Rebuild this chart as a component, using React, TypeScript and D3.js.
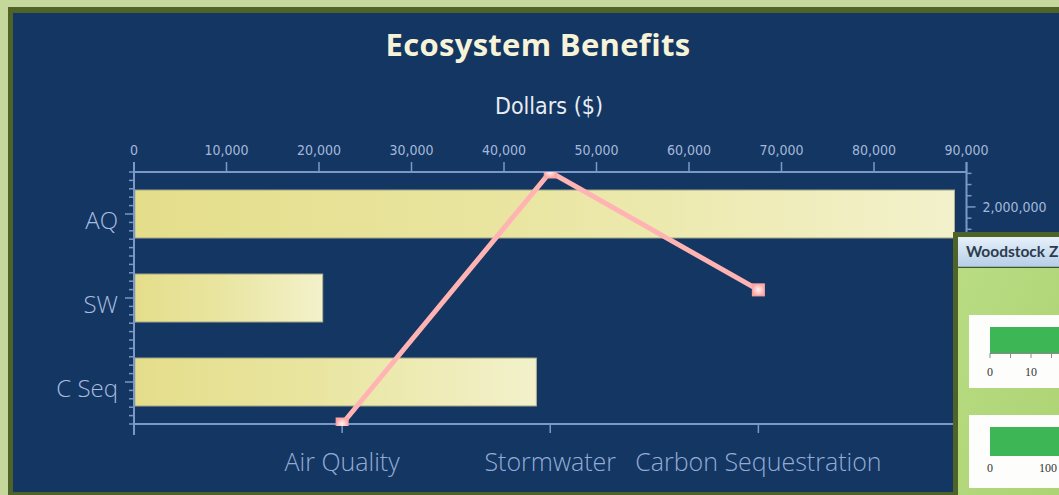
import * as d3 from "d3";
import React from "react";

// bar series (top axis, dollars)
const categories = ["AQ", "SW", "C Seq"];
const dollarValues = [88700, 20400, 43500];
const dollarTicks = [0, 10000, 20000, 30000, 40000, 50000, 60000, 70000, 80000, 90000];

// line series (bottom categories, right axis)
const benefitNames = ["Air Quality", "Stormwater", "Carbon Sequestration"];
const benefitAmounts = [61000, 2312000, 1259000];
const amountTicks = [2000000];

// the overlapping "Woodstock Z..." panel on the right
const panelBarValues = [30, 220];
const panelTicks = [[0, 10], [0, 100]];
const panelTickLabels = [["0", "10"], ["0", "100"]];

const W = 1059;
const H = 495;
const M = { left: 134, right: 966.5, top: 172, bottom: 424 };

const AXIS = "#7b98c9";
const TICK_TXT = "#a3b8dc";
const CAT_TXT = "#a9bce0";
const COND = "'DejaVu Sans Condensed', 'DejaVu Sans', sans-serif";
const SANS = "'Open Sans', 'Noto Sans', sans-serif";

export default function App() {
    const x = d3.scaleLinear().domain([0, 90000]).range([M.left, M.right]);
    const y = d3
        .scaleBand()
        .domain(categories)
        .range([M.top, M.bottom])
        .paddingInner(0.43)
        .paddingOuter(0.215);
    const xc = d3.scalePoint().domain(benefitNames).range([M.left, M.right]).padding(1);
    const yr = d3
        .scaleLinear()
        .domain(d3.extent(benefitAmounts) as [number, number])
        .range([M.bottom, M.top]);
    const fmt = d3.format(",");

    const line = d3
        .line<number>()
        .x((d, i) => xc(benefitNames[i]) as number)
        .y((d) => yr(d));

    // minor ticks on the left axis, ten per band
    const leftMinor = d3.range(0, 31).map((i) => M.top + (i * y.step()) / 10);
    // minor ticks on the right axis, every 100,000
    const rightMinor = d3.range(100000, yr.domain()[1] + 1, 100000);

    // panel scales
    const p1 = d3.scaleLinear().domain([0, 10]).range([990, 1031]);
    const p2 = d3.scaleLinear().domain([0, 100]).range([990, 1048]);
    const panelScales = [p1, p2];
    const cardTop = [315, 415];

    return (
        <svg
            width={W}
            height={H}
            style={{ position: "absolute", left: 0, top: 0, display: "block" }}
        >
            <defs>
                <linearGradient id="barGrad" x1="0" x2="1" y1="0" y2="0">
                    <stop offset="0" stopColor="#e4de8b" />
                    <stop offset="0.45" stopColor="#e9e5a0" />
                    <stop offset="1" stopColor="#f3f1cb" />
                </linearGradient>
                <radialGradient id="mk">
                    <stop offset="0" stopColor="#fff2f2" />
                    <stop offset="0.5" stopColor="#ffcfcf" />
                    <stop offset="1" stopColor="#ffa8a8" />
                </radialGradient>
                <linearGradient id="hdr" x1="0" x2="0" y1="0" y2="1">
                    <stop offset="0" stopColor="#e6f0fa" />
                    <stop offset="1" stopColor="#b6cee8" />
                </linearGradient>
                <linearGradient id="body" x1="0" x2="1" y1="0" y2="1">
                    <stop offset="0" stopColor="#b9dc82" />
                    <stop offset="1" stopColor="#acd374" />
                </linearGradient>
                <clipPath id="plotClip">
                    <rect x={M.left} y={M.top} width={M.right - M.left} height={M.bottom - M.top + 2} />
                </clipPath>
            </defs>

            {/* frame */}
            <rect x={0} y={0} width={W} height={H} fill="#c5d79b" />
            <rect x={8} y={7} width={W - 8} height={H - 7} fill="#4f6228" />
            <rect x={13} y={13} width={W - 13} height={492 - 13} fill="#143662" />

            {/* titles */}
            <text
                x={538}
                y={56}
                textAnchor="middle"
                fontFamily={SANS}
                fontWeight={700}
                fontSize={31}
                letterSpacing={0.3}
                fill="#f7f3d8"
            >
                Ecosystem Benefits
            </text>
            <text
                x={549}
                y={114}
                textAnchor="middle"
                fontFamily={COND}
                fontStretch="condensed"
                fontSize={23}
                fill="#e9edf2"
            >
                Dollars ($)
            </text>

            {/* bars */}
            {categories.map((c, i) => (
                <rect
                    key={c}
                    x={x(0) + 1}
                    y={y(c)}
                    width={x(dollarValues[i]) - x(0) - 1}
                    height={y.bandwidth()}
                    fill="url(#barGrad)"
                    stroke="#b3b28c"
                    strokeWidth={1}
                />
            ))}

            {/* top axis */}
            <line x1={M.left} x2={M.right} y1={M.top} y2={M.top} stroke={AXIS} strokeWidth={2} />
            {dollarTicks.map((t) => (
                <g key={t}>
                    <line x1={x(t)} x2={x(t)} y1={M.top} y2={M.top - 10} stroke={AXIS} strokeWidth={1.5} />
                    <text
                        x={x(t)}
                        y={155}
                        textAnchor="middle"
                        fontFamily={COND}
                        fontStretch="condensed"
                        fontSize={14}
                        fill={TICK_TXT}
                    >
                        {fmt(t)}
                    </text>
                </g>
            ))}

            {/* left axis */}
            <line x1={M.left} x2={M.left} y1={M.top - 10} y2={M.bottom + 11} stroke={AXIS} strokeWidth={2} />
            {leftMinor.map((v, i) => (
                <line
                    key={i}
                    x1={M.left}
                    x2={i % 10 === 5 ? M.left - 9 : M.left - 5}
                    y1={v}
                    y2={v}
                    stroke={AXIS}
                    strokeWidth={1.5}
                />
            ))}
            {categories.map((c) => (
                <text
                    key={c}
                    x={118}
                    y={(y(c) as number) + y.bandwidth() / 2 + 15}
                    textAnchor="end"
                    fontFamily={SANS}
                    fontWeight={300}
                    fontSize={24}
                    fill={CAT_TXT}
                >
                    {c}
                </text>
            ))}

            {/* bottom axis */}
            <line x1={M.left} x2={M.right} y1={M.bottom} y2={M.bottom} stroke={AXIS} strokeWidth={2} />
            {benefitNames.map((n) => (
                <g key={n}>
                    <line
                        x1={xc(n)}
                        x2={xc(n)}
                        y1={M.bottom}
                        y2={M.bottom + 9}
                        stroke={AXIS}
                        strokeWidth={1.5}
                    />
                    <text
                        x={xc(n)}
                        y={471}
                        textAnchor="middle"
                        fontFamily={SANS}
                        fontWeight={300}
                        fontSize={25}
                        fill="#93acd6"
                    >
                        {n}
                    </text>
                </g>
            ))}

            {/* right axis */}
            <line x1={M.right} x2={M.right} y1={M.top - 10} y2={M.bottom + 11} stroke={AXIS} strokeWidth={2} />
            {rightMinor.map((v) => (
                <line
                    key={v}
                    x1={M.right}
                    x2={v % 500000 === 0 ? M.right + 9 : M.right + 5}
                    y1={yr(v)}
                    y2={yr(v)}
                    stroke={AXIS}
                    strokeWidth={1.5}
                />
            ))}
            {amountTicks.map((t) => (
                <text
                    key={t}
                    x={M.right + 16}
                    y={yr(t) + 5}
                    fontFamily={COND}
                    fontStretch="condensed"
                    fontSize={14}
                    fill={TICK_TXT}
                >
                    {fmt(t)}
                </text>
            ))}

            {/* line series */}
            <g clipPath="url(#plotClip)">
                <path
                    d={line(benefitAmounts) as string}
                    fill="none"
                    stroke="#ffb3b3"
                    strokeWidth={5}
                    strokeLinejoin="miter"
                />
                {benefitAmounts.map((v, i) => (
                    <rect
                        key={i}
                        x={(xc(benefitNames[i]) as number) - 6}
                        y={yr(v) - 6}
                        width={12}
                        height={12}
                        fill="url(#mk)"
                        stroke="#ffa3a3"
                        strokeWidth={1}
                    />
                ))}
            </g>

            {/* overlapping panel */}
            <rect x={953} y={232} width={W - 953} height={H - 232} fill="#4f6228" />
            <rect x={958} y={237} width={W - 958} height={30} fill="url(#hdr)" />
            <line x1={958} x2={W} y1={267.5} y2={267.5} stroke="#3d5a2c" strokeWidth={1.5} />
            <rect x={958} y={268} width={W - 958} height={H - 268} fill="url(#body)" />
            <text
                x={966}
                y={257}
                fontFamily="'Lato', 'Open Sans', sans-serif"
                fontWeight={700}
                fontSize={15.5}
                fill="#2c3b4d"
            >
                Woodstock Z
            </text>
            {panelBarValues.map((v, i) => {
                const s = panelScales[i];
                const top = cardTop[i];
                const barH = i === 0 ? 26 : 29;
                return (
                    <g key={i}>
                        <rect x={969} y={top} width={W - 969} height={73} fill="#fdfdfc" />
                        <rect x={s(0)} y={top + 12} width={s(v) - s(0)} height={barH} fill="#3db655" />
                        {i === 0 && (
                            <g>
                                <line
                                    x1={s(0)}
                                    x2={W}
                                    y1={top + 12 + barH + 0.5}
                                    y2={top + 12 + barH + 0.5}
                                    stroke="#8a8a8a"
                                />
                                {d3.range(0, 31, 5).map((t) => (
                                    <line
                                        key={t}
                                        x1={s(t)}
                                        x2={s(t)}
                                        y1={top + 12 + barH}
                                        y2={top + 12 + barH + 5}
                                        stroke="#8a8a8a"
                                    />
                                ))}
                            </g>
                        )}
                        {panelTicks[i].map((t, j) => (
                            <text
                                key={t}
                                x={s(t)}
                                y={i === 0 ? top + 61 : top + 57}
                                textAnchor="middle"
                                fontFamily="'Liberation Serif', serif"
                                fontSize={12}
                                fill="#333"
                            >
                                {panelTickLabels[i][j]}
                            </text>
                        ))}
                    </g>
                );
            })}
        </svg>
    );
}
